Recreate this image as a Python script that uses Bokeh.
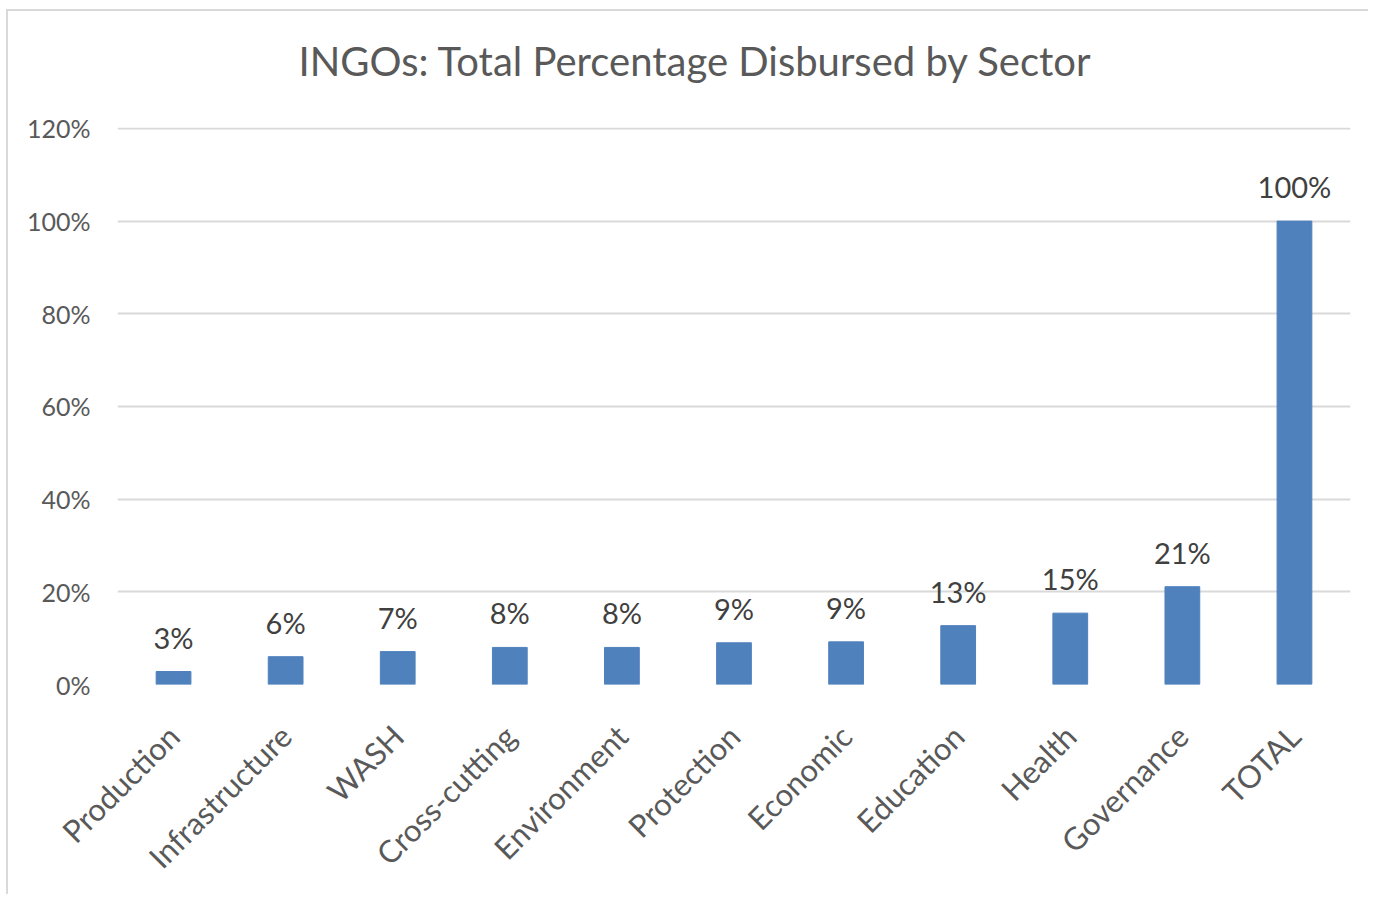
from bokeh.plotting import figure
from bokeh.models import ColumnDataSource, LabelSet, NumeralTickFormatter, Range1d, FixedTicker, FactorRange, Title
from bokeh.core.properties import value
from bokeh.embed import file_html
from bokeh.resources import INLINE
import math

title_text = "INGOs: Total Percentage Disbursed by Sector"
categories = ["Production", "Infrastructure", "WASH", "Cross-cutting", "Environment",
              "Protection", "Economic", "Education", "Health", "Governance", "TOTAL"]
values = [0.028, 0.060, 0.071, 0.080, 0.080, 0.090, 0.092, 0.127, 0.154, 0.211, 1.00]
y_ticks = [0.0, 0.2, 0.4, 0.6, 0.8, 1.0, 1.2]

FONT = "Lato"
labels = [f"{round(v * 100)}%" for v in values]
src = ColumnDataSource(dict(cat=categories, val=values, lab=labels))

p = figure(x_range=FactorRange(*categories), y_range=Range1d(0, 1.202),
           width=1362, height=885, output_backend="svg", toolbar_location=None,
           min_border_left=109, min_border_right=20, min_border_top=116, min_border_bottom=212,
           styles={"margin-left": "6px", "margin-top": "9px",
                   "border-left": "2px solid #D9D9D9", "border-top": "2px solid #D9D9D9"})

p.vbar(x="cat", top="val", width=0.31, source=src, fill_color="#4F81BD", line_color="#4F81BD")

p.add_layout(LabelSet(x="cat", y="val", text="lab", source=src, text_align="center",
                      text_baseline="alphabetic", y_offset=23, text_font=value(FONT),
                      text_font_size="29px", text_color="#404040"))

# blank spacer between the plot area and the title
p.add_layout(Title(text=" ", text_font=FONT, text_font_size="30px", standoff=0), "above")

p.title.text = title_text
p.title.align = "left"
p.title.offset = 181
p.title.standoff = 10
p.title.text_font = FONT
p.title.text_font_size = "40px"
p.title.text_font_style = "normal"
p.title.text_color = "#595959"

p.outline_line_color = None
p.background_fill_color = "white"
p.border_fill_color = "white"

p.xgrid.grid_line_color = None
p.ygrid.grid_line_color = "#D9D9D9"
p.ygrid.grid_line_width = 2
p.yaxis.ticker = FixedTicker(ticks=y_ticks)
p.yaxis.formatter = NumeralTickFormatter(format="0%")
p.yaxis.axis_line_color = None
p.yaxis.major_tick_line_color = None
p.yaxis.minor_tick_line_color = None
p.yaxis.major_label_standoff = 21
p.yaxis.major_label_text_font = FONT
p.yaxis.major_label_text_font_size = "25px"
p.yaxis.major_label_text_color = "#595959"

p.xaxis.axis_line_color = None
p.xaxis.major_tick_line_color = None
p.xaxis.minor_tick_line_color = None
p.xaxis.major_label_orientation = math.pi / 4
p.xaxis.major_label_standoff = 40
p.xaxis.major_label_text_font = FONT
p.xaxis.major_label_text_font_size = "31px"
p.xaxis.major_label_text_color = "#595959"

open("out.html", "w").write(file_html(p, INLINE))
